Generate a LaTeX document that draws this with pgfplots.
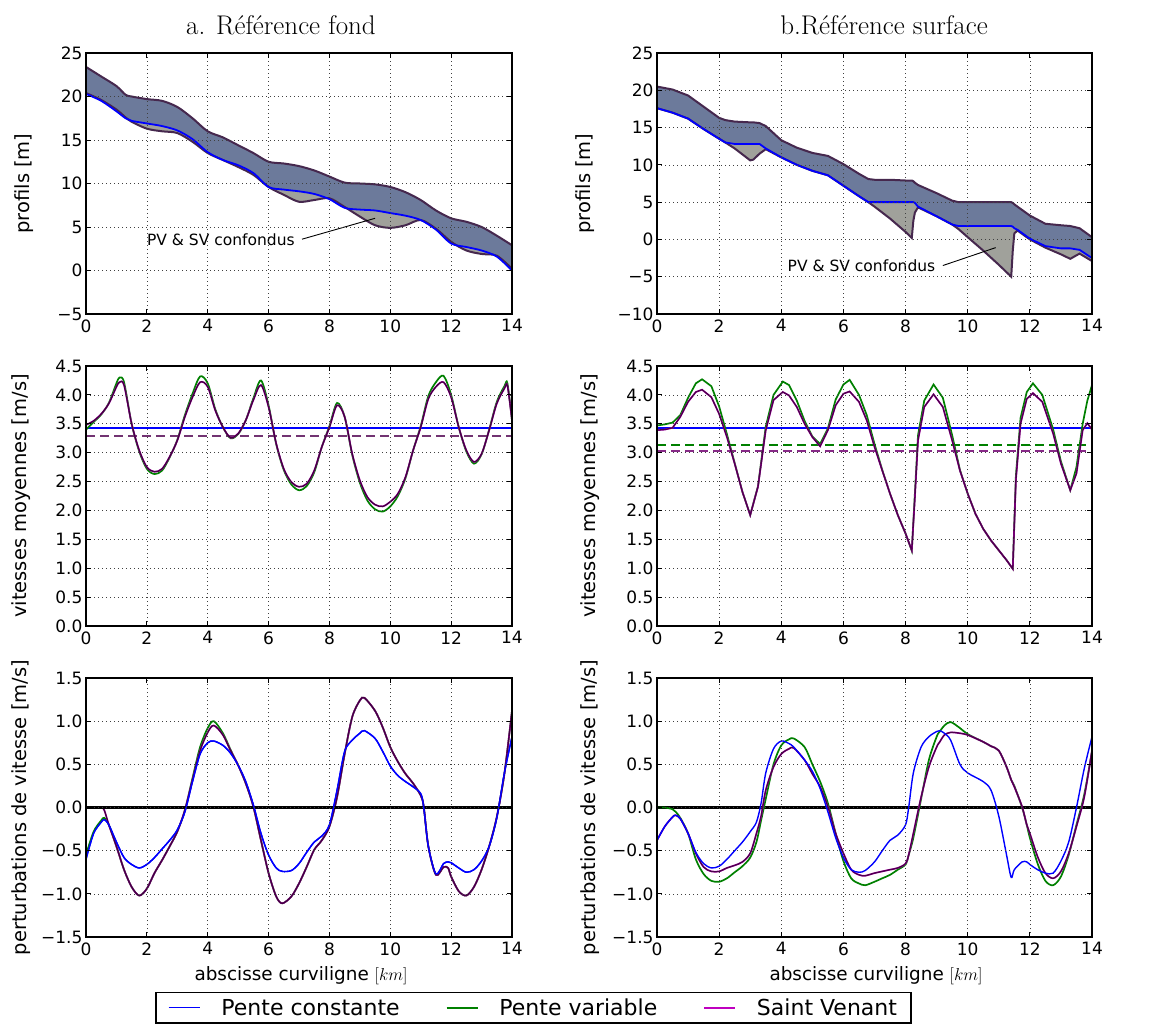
\documentclass[border=0pt]{standalone}
\usepackage{fontspec}
\usepackage{pgfplots}
\pgfplotsset{compat=1.18}
\usepackage{pgfplotstable}
\newfontfamily\dv{DejaVu Sans}
\definecolor{slate}{RGB}{108,122,155}
\definecolor{fillgray}{RGB}{160,161,155}
\definecolor{surfline}{RGB}{70,40,78}
\definecolor{mpgreen}{RGB}{0,128,0}
\definecolor{mpmag}{RGB}{191,0,191}
\definecolor{pcblue}{RGB}{0,0,255}

% ---------- profiles, reference bed ----------
\pgfplotstableread{
x surf pc sv
0 23.4 20.3 20.4
0.5 22.3 19.5 19.6
1.0 21.2 18.3 18.5
1.3 20.2 17.5 17.6
1.5 20.0 17.2 17.1
2.0 19.7 16.9 16.3
2.5 19.5 16.6 16.0
3.0 18.8 16.1 15.8
3.5 17.5 15.1 14.8
4.0 16.0 13.6 13.5
4.5 15.3 12.7 12.7
5.0 14.4 12.1 11.9
5.5 13.5 11.2 11.0
6.0 12.5 9.6 9.6
6.5 12.3 9.3 8.7
7.0 12.0 9.1 7.9
7.5 11.5 8.8 8.1
8.0 10.8 8.2 8.3
8.5 10.1 7.2 7.3
9.0 10.0 7.0 6.2
9.5 9.9 6.9 5.2
10.0 9.6 6.6 4.9
10.5 9.0 6.3 5.2
11.0 8.1 5.8 5.8
11.5 6.9 4.7 4.8
12.0 6.0 3.1 3.3
12.5 5.6 2.7 2.3
13.0 5.0 2.3 1.9
13.5 4.0 1.6 1.7
14.0 2.9 0.0 0.2
}\profA
% ---------- profiles, reference surface ----------
\pgfplotstableread{
x surf pc sv
0 20.5 17.6 17.6
0.5 20.1 17.0 17.0
1.0 19.3 16.2 16.2
1.5 17.8 14.8 14.8
2.0 16.3 13.5 13.5
2.2 16.0 13.0 13.0
2.5 15.8 12.8 12.2
3.0 15.7 12.8 10.6
3.1 15.7 12.8 10.7
3.3 15.6 12.8 11.5
3.5 15.2 12.2 12.1
4.0 13.3 11.0 11.0
4.5 12.3 10.0 10.0
5.0 11.6 9.2 9.2
5.5 11.2 8.6 8.6
6.0 10.1 7.2 7.2
6.5 8.8 5.8 5.8
6.8 8.1 5.0 5.0
7.0 8.0 5.0 4.4
7.5 8.0 5.0 2.8
8.0 7.9 5.0 1.0
8.2 7.9 5.0 0.2
8.25 7.8 5.0 2.5
8.3 7.6 4.9 3.6
8.4 7.3 4.4 4.3
9.0 6.2 3.1 3.1
9.5 5.2 2.0 2.0
9.7 5.0 1.8 1.4
10.0 5.0 1.8 0.3
10.5 5.0 1.8 -1.5
11.0 5.0 1.8 -3.4
11.4 5.0 1.8 -5.0
11.45 4.9 1.7 -1.5
11.5 4.7 1.5 0.8
11.6 4.4 1.3 1.2
12.0 3.2 0.1 0.0
12.5 2.1 -0.9 -1.1
13.0 1.9 -1.2 -2.0
13.3 1.8 -1.2 -2.6
13.6 1.5 -1.4 -1.9
14.0 0.3 -2.5 -2.9
}\profB
% ---------- mean velocities ----------
\pgfplotstableread{
x pv sv
0 3.40 3.48
0.25 3.53 3.55
0.5 3.66 3.67
0.75 3.86 3.85
1.0 4.20 4.14
1.1 4.30 4.22
1.25 4.22 4.17
1.5 3.50 3.50
1.75 3.02 3.04
2.0 2.72 2.75
2.25 2.63 2.67
2.5 2.69 2.72
2.75 2.92 2.93
3.0 3.22 3.21
3.25 3.65 3.62
3.5 4.02 3.96
3.75 4.32 4.22
4.0 4.20 4.14
4.25 3.75 3.73
4.5 3.44 3.44
4.75 3.25 3.26
5.0 3.32 3.33
5.25 3.56 3.56
5.5 3.94 3.91
5.75 4.25 4.17
6.0 3.82 3.79
6.25 3.15 3.16
6.5 2.70 2.72
6.75 2.45 2.49
7.0 2.35 2.41
7.25 2.42 2.46
7.5 2.66 2.69
7.75 3.10 3.10
8.0 3.46 3.44
8.25 3.86 3.82
8.5 3.62 3.62
8.75 2.96 2.98
9.0 2.48 2.52
9.25 2.17 2.23
9.5 2.02 2.10
9.75 1.98 2.07
10.0 2.07 2.15
10.25 2.25 2.29
10.5 2.56 2.58
10.75 3.04 3.04
11.0 3.46 3.44
11.25 3.98 3.93
11.5 4.22 4.14
11.75 4.33 4.22
12.0 4.00 3.96
12.25 3.44 3.44
12.5 3.02 3.04
12.75 2.81 2.84
13.0 2.97 2.98
13.25 3.40 3.39
13.5 3.88 3.85
13.75 4.15 4.11
13.85 4.20 4.16
14.0 3.56 3.56
}\velA
\pgfplotstableread{
x pv sv
0 3.47 3.39
0.25 3.49 3.40
0.5 3.52 3.43
0.75 3.65 3.62
1.0 3.95 3.88
1.25 4.20 4.05
1.45 4.27 4.09
1.75 4.15 3.96
2.0 3.80 3.67
2.25 3.32 3.27
2.5 2.82 2.81
2.75 2.32 2.32
3.0 1.92 1.92
3.25 2.42 2.41
3.5 3.45 3.39
3.75 4.00 3.91
4.05 4.23 4.05
4.25 4.17 3.99
4.5 3.90 3.79
4.75 3.55 3.50
5.0 3.28 3.27
5.25 3.15 3.11
5.5 3.42 3.39
5.75 3.92 3.82
6.0 4.18 4.02
6.2 4.26 4.06
6.5 4.00 3.88
6.75 3.65 3.56
7.0 3.15 3.10
7.25 2.70 2.69
7.5 2.29 2.29
7.75 1.92 1.92
8.0 1.60 1.60
8.2 1.30 1.31
8.3 2.30 2.23
8.4 3.30 3.21
8.6 3.90 3.79
8.9 4.18 4.01
9.2 3.95 3.79
9.5 3.30 3.21
9.75 2.70 2.69
10.0 2.29 2.29
10.25 1.94 1.94
10.5 1.68 1.68
10.75 1.48 1.48
11.0 1.31 1.31
11.25 1.14 1.14
11.45 0.99 0.99
11.55 2.60 2.52
11.7 3.60 3.50
11.9 4.05 3.93
12.1 4.20 4.03
12.4 4.00 3.88
12.75 3.40 3.33
13.0 2.85 2.81
13.3 2.35 2.35
13.5 2.75 2.64
13.7 3.50 3.39
13.85 3.90 3.51
14.0 4.17 3.40
}\velB
% ---------- velocity perturbations ----------
\pgfplotstableread{
x pc pv sv
0 -0.60 -0.55 0.00
0.25 -0.30 -0.28 0.00
0.5 -0.17 -0.15 0.00
0.6 -0.14 -0.12 -0.03
0.75 -0.20 -0.20 -0.20
1.0 -0.40 -0.45 -0.45
1.25 -0.58 -0.72 -0.72
1.5 -0.66 -0.92 -0.92
1.75 -0.70 -1.02 -1.02
2.0 -0.66 -0.94 -0.94
2.25 -0.58 -0.76 -0.76
2.5 -0.48 -0.61 -0.61
2.75 -0.38 -0.45 -0.45
3.0 -0.26 -0.28 -0.28
3.25 -0.05 -0.03 -0.03
3.5 0.30 0.34 0.32
3.75 0.62 0.70 0.66
4.0 0.75 0.92 0.87
4.2 0.77 1.00 0.95
4.5 0.72 0.86 0.84
4.75 0.63 0.67 0.66
5.0 0.49 0.49 0.49
5.25 0.30 0.28 0.28
5.5 0.03 0.01 0.01
5.75 -0.30 -0.38 -0.38
6.0 -0.55 -0.76 -0.76
6.25 -0.70 -1.03 -1.03
6.45 -0.74 -1.11 -1.11
6.75 -0.73 -1.03 -1.03
7.0 -0.65 -0.88 -0.88
7.25 -0.52 -0.69 -0.69
7.5 -0.40 -0.49 -0.49
7.75 -0.33 -0.38 -0.38
8.0 -0.20 -0.22 -0.22
8.25 0.20 0.12 0.12
8.5 0.65 0.62 0.62
8.75 0.78 1.05 1.05
9.0 0.86 1.24 1.24
9.15 0.89 1.27 1.27
9.5 0.80 1.12 1.12
9.75 0.65 0.93 0.93
10.0 0.48 0.70 0.70
10.25 0.37 0.53 0.53
10.5 0.30 0.39 0.39
10.75 0.24 0.28 0.28
11.0 0.16 0.14 0.14
11.1 0.00 0.01 0.01
11.25 -0.45 -0.45 -0.45
11.5 -0.77 -0.78 -0.78
11.75 -0.65 -0.69 -0.69
11.9 -0.63 -0.70 -0.70
12.0 -0.64 -0.80 -0.80
12.25 -0.70 -0.97 -0.97
12.5 -0.75 -1.02 -1.02
12.75 -0.72 -0.92 -0.92
13.0 -0.62 -0.72 -0.72
13.25 -0.45 -0.45 -0.45
13.5 -0.12 -0.11 -0.11
13.75 0.40 0.39 0.39
14.0 0.82 1.12 1.12
}\perA
\pgfplotstableread{
x pc pv sv
0 -0.38 0.00 -0.38
0.25 -0.22 0.00 -0.22
0.5 -0.11 -0.02 -0.11
0.6 -0.09 -0.05 -0.09
0.75 -0.13 -0.12 -0.13
1.0 -0.30 -0.30 -0.30
1.25 -0.52 -0.60 -0.53
1.5 -0.65 -0.77 -0.69
1.75 -0.70 -0.85 -0.74
2.0 -0.68 -0.86 -0.74
2.25 -0.60 -0.82 -0.70
2.5 -0.50 -0.75 -0.67
2.75 -0.40 -0.68 -0.63
3.0 -0.28 -0.58 -0.53
3.2 -0.17 -0.40 -0.30
3.35 0.05 -0.15 -0.10
3.5 0.40 0.10 0.20
3.75 0.68 0.50 0.47
4.0 0.77 0.72 0.62
4.25 0.74 0.79 0.68
4.4 0.70 0.80 0.69
4.75 0.55 0.70 0.55
5.0 0.42 0.50 0.39
5.25 0.22 0.30 0.24
5.5 -0.05 0.05 0.01
5.75 -0.35 -0.30 -0.30
6.0 -0.58 -0.62 -0.53
6.25 -0.72 -0.82 -0.72
6.5 -0.75 -0.88 -0.78
6.7 -0.73 -0.90 -0.79
7.0 -0.63 -0.86 -0.76
7.25 -0.50 -0.82 -0.74
7.5 -0.38 -0.78 -0.72
7.75 -0.32 -0.72 -0.70
8.0 -0.20 -0.66 -0.65
8.1 0.00 -0.55 -0.55
8.25 0.40 -0.35 -0.30
8.5 0.70 0.10 0.12
8.75 0.82 0.55 0.47
9.0 0.88 0.82 0.70
9.1 0.89 0.88 0.76
9.25 0.86 0.95 0.84
9.45 0.78 0.99 0.87
9.75 0.50 0.92 0.86
10.0 0.40 0.85 0.84
10.5 0.30 0.76 0.76
10.75 0.20 0.71 0.71
11.0 -0.10 0.66 0.66
11.25 -0.55 0.47 0.47
11.4 -0.81 0.32 0.32
11.5 -0.72 0.25 0.24
11.75 -0.63 0.00 0.01
11.9 -0.63 -0.20 -0.20
12.0 -0.66 -0.35 -0.30
12.25 -0.72 -0.65 -0.57
12.5 -0.76 -0.85 -0.76
12.75 -0.76 -0.90 -0.82
13.0 -0.62 -0.80 -0.74
13.25 -0.40 -0.55 -0.53
13.5 0.00 -0.20 -0.22
13.75 0.45 0.15 0.12
14.0 0.82 0.65 0.66
}\perB

\pgfplotsset{
  panel/.style={
    scale only axis, anchor=south west,
    xmin=0, xmax=14, xtick={0,2,4,6,8,10,12,14},
    xticklabels={0,2,4,6,8,10,12,14},
    grid=major,
    grid style={black!75, line width=0.6pt, dash pattern=on 1.2pt off 2.8pt},
    axis line style={line width=1.3pt},
    axis on top,
    tick align=inside, major tick length=5pt,
    tick style={black, line width=0.8pt},
    tick label style={font=\dv\fontsize{17}{17}\selectfont},
    xticklabel style={yshift=-2pt},
  },
  vel/.style={ymin=0, ymax=4.5, ytick={0,0.5,1,1.5,2,2.5,3,3.5,4,4.5},
    yticklabels={0.0,0.5,1.0,1.5,2.0,2.5,3.0,3.5,4.0,4.5}},
  per/.style={ymin=-1.5, ymax=1.5, ytick={-1.5,-1,-0.5,0,0.5,1,1.5},
    yticklabels={−1.5,−1.0,−0.5,0.0,0.5,1.0,1.5}},
}

\begin{document}
\begin{tikzpicture}
\path[use as bounding box] (0pt,0pt) rectangle (1149pt,-1032pt);

% titles
\node[anchor=base, font=\fontsize{27}{30}\selectfont] at (281pt,-35pt) {a. Référence fond};
\node[anchor=base, font=\fontsize{27}{30}\selectfont] at (884pt,-35pt) {b.Référence surface};

% y labels
\node[rotate=90, font=\dv\fontsize{19.5}{20}\selectfont] at (24pt,-183.5pt) {profils [m]};
\node[rotate=90, font=\dv\fontsize{19.5}{20}\selectfont] at (21pt,-496pt) {vitesses moyennes [m/s]};
\node[rotate=90, font=\dv\fontsize{19.5}{20}\selectfont] at (21pt,-807.5pt) {perturbations de vitesse [m/s]};
\node[rotate=90, font=\dv\fontsize{19.5}{20}\selectfont] at (585pt,-183.5pt) {profils [m]};
\node[rotate=90, font=\dv\fontsize{19.5}{20}\selectfont] at (590pt,-496pt) {vitesses moyennes [m/s]};
\node[rotate=90, font=\dv\fontsize{19.5}{20}\selectfont] at (590pt,-807.5pt) {perturbations de vitesse [m/s]};

% x labels
\node[anchor=base, font=\dv\fontsize{18.4}{20}\selectfont] at (301pt,-980pt) {abscisse curviligne $[km]$};
\node[anchor=base, font=\dv\fontsize{18.4}{20}\selectfont] at (876pt,-980pt) {abscisse curviligne $[km]$};

% ===== top left =====
\begin{axis}[panel, at={(86pt,-314pt)}, width=426pt, height=261pt,
  ymin=-5, ymax=25, ytick={-5,0,5,10,15,20,25}, yticklabels={−5,0,5,10,15,20,25}]
\addplot[fill=slate, draw=none, smooth] table[x=x,y=surf] {\profA} |- (0,-20) -- cycle;
\addplot[fill=fillgray, draw=none, smooth] table[x=x,y=pc] {\profA} |- (0,-20) -- cycle;
\addplot[fill=white, draw=none, smooth] table[x=x,y=sv] {\profA} |- (0,-20) -- cycle;
\addplot[surfline, line width=2pt, smooth] table[x=x,y=sv] {\profA};
\addplot[blue, line width=1.8pt, smooth] table[x=x,y=pc] {\profA};
\addplot[surfline, line width=2pt, smooth] table[x=x,y=surf] {\profA};
\node[anchor=west, font=\dv\fontsize{15.5}{16}\selectfont, inner sep=0pt] at (axis cs:2.0,3.5) {PV \& SV confondus};
\draw[black, line width=0.9pt] (axis cs:7.1,3.6) -- (axis cs:9.5,6.0);
\end{axis}

% ===== top right =====
\begin{axis}[panel, at={(657pt,-314pt)}, width=435pt, height=261pt,
  ymin=-10, ymax=25, ytick={-10,-5,0,5,10,15,20,25}, yticklabels={−10,−5,0,5,10,15,20,25}]
\addplot[fill=slate, draw=none] table[x=x,y=surf] {\profB} |- (0,-20) -- cycle;
\addplot[fill=fillgray, draw=none] table[x=x,y=pc] {\profB} |- (0,-20) -- cycle;
\addplot[fill=white, draw=none] table[x=x,y=sv] {\profB} |- (0,-20) -- cycle;
\addplot[surfline, line width=2pt] table[x=x,y=sv] {\profB};
\addplot[blue, line width=1.8pt] table[x=x,y=pc] {\profB};
\addplot[surfline, line width=2pt] table[x=x,y=surf] {\profB};
\node[anchor=west, font=\dv\fontsize{15.5}{16}\selectfont, inner sep=0pt] at (axis cs:4.2,-3.55) {PV \& SV confondus};
\draw[black, line width=0.9pt] (axis cs:9.2,-3.5) -- (axis cs:10.9,-1.1);
\end{axis}

% ===== middle left =====
\begin{axis}[panel, vel, at={(86pt,-626pt)}, width=426pt, height=260pt]
\addplot[blue, line width=2pt] coordinates {(0,3.42) (14,3.42)};
\addplot[mpgreen, line width=2pt, dash pattern=on 9pt off 5pt] coordinates {(0,3.29) (14,3.29)};
\addplot[mpmag, opacity=0.6, line width=2pt, dash pattern=on 9pt off 5pt] coordinates {(0,3.29) (14,3.29)};
\addplot[mpgreen, line width=1.7pt, smooth] table[x=x,y=pv] {\velA};
\addplot[mpmag, line width=1.7pt, smooth] table[x=x,y=sv] {\velA};
\addplot[black, opacity=0.65, line width=1.3pt, smooth] table[x=x,y=sv] {\velA};
\end{axis}

% ===== middle right =====
\begin{axis}[panel, vel, at={(657pt,-626pt)}, width=435pt, height=260pt]
\addplot[blue, line width=2pt] coordinates {(0,3.42) (14,3.42)};
\addplot[mpgreen, line width=2pt, dash pattern=on 9pt off 5pt] coordinates {(0,3.14) (14,3.14)};
\addplot[mpmag, opacity=0.75, line width=2pt, dash pattern=on 9pt off 5pt] coordinates {(0,3.03) (14,3.03)};
\addplot[black, opacity=0.35, line width=2pt, dash pattern=on 9pt off 5pt] coordinates {(0,3.03) (14,3.03)};
\addplot[mpgreen, line width=1.7pt] table[x=x,y=pv] {\velB};
\addplot[mpmag, line width=1.7pt] table[x=x,y=sv] {\velB};
\addplot[black, opacity=0.6, line width=1.3pt] table[x=x,y=sv] {\velB};
\end{axis}

% ===== bottom left =====
\begin{axis}[panel, per, at={(86pt,-937pt)}, width=426pt, height=259pt,
  legend columns=3,
  legend style={at={(rel axis cs:1.0505,-0.2124)}, anchor=north, draw=black, line width=1.3pt,
    font=\dv\fontsize{22}{24}\selectfont, inner xsep=12pt, inner ysep=4pt,
    nodes={inner sep=2pt},
    /tikz/every odd column/.append style={column sep=19pt},
    /tikz/every even column/.append style={column sep=44pt}},
  legend image code/.code={\draw (0pt,0pt) -- (31pt,0pt);}]
\addplot[pcblue, line width=1.4pt, smooth,
  legend image code/.code={\draw[draw=pcblue, line width=1.4pt] (0pt,0pt) -- (31pt,0pt);}]
  table[x=x,y=pc] {\perA};
\addplot[mpgreen, line width=1.7pt, smooth] table[x=x,y=pv] {\perA};
\addplot[mpmag, line width=1.7pt, smooth] table[x=x,y=sv] {\perA};
\addplot[black, opacity=0.65, line width=1.3pt, smooth] table[x=x,y=sv] {\perA};
\addplot[black, line width=2.2pt] coordinates {(0,0) (14,0)};
\addplot[blue, line width=1.4pt, smooth] table[x=x,y=pc] {\perA};
\legend{Pente constante, Pente variable, Saint Venant}
\end{axis}

% ===== bottom right =====
\begin{axis}[panel, per, at={(657pt,-937pt)}, width=435pt, height=259pt]
\addplot[black, line width=2.2pt] coordinates {(0,0) (14,0)};
\addplot[mpgreen, line width=1.7pt, smooth] table[x=x,y=pv] {\perB};
\addplot[mpmag, line width=1.7pt, smooth] table[x=x,y=sv] {\perB};
\addplot[black, opacity=0.6, line width=1.3pt, smooth] table[x=x,y=sv] {\perB};
\addplot[blue, line width=1.4pt, smooth] table[x=x,y=pc] {\perB};
\end{axis}
\end{tikzpicture}
\end{document}
